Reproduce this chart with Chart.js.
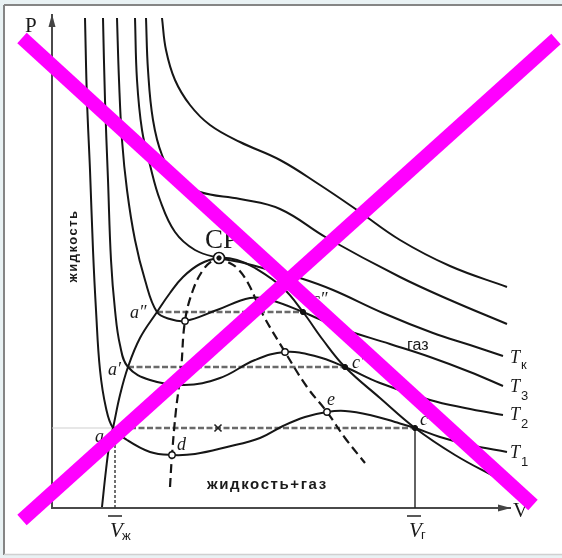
<!DOCTYPE html>
<html><head><meta charset="utf-8">
<script src="https://cdn.jsdelivr.net/npm/chart.js"></script>
<style>html,body{margin:0;padding:0;background:#e9f2f4;}canvas{display:block;}</style>
</head><body>
<canvas id="pv" width="562" height="558"></canvas>
<script>
// Van der Waals isotherms on the P–V plane (arbitrary units: V along x, P along y)
const isoT1V = [3.3,3.5,3.8,4.1,4.4,4.8,5.4,6.1,7.5,9.8,12.0,14.3,17.5,20.8,23.1,25.3,27.5,29.3,31.8,34.3,36.3,38.8,41.8,45.5];
const isoT1P = [49.0,40.8,33.8,25.8,19.8,13.8,10.0,8.0,6.8,5.6,5.3,5.4,6.1,7.0,8.2,9.1,9.6,9.7,9.3,8.6,8.0,7.1,6.3,5.6];
const isoT2V = [5.1,5.3,5.6,5.9,6.3,6.8,7.6,9.8,13.2,16.8,20.3,23.3,26.3,29.3,32.8,37.8,41.3,45.1];
const isoT2P = [49.0,40.8,32.8,24.8,19.8,16.3,14.1,12.8,12.3,13.0,14.8,15.6,15.2,14.1,12.5,10.8,10.0,9.3];
const isoT3V = [6.5,6.7,7.0,7.5,8.3,9.3,10.5,11.8,13.3,16.5,19.8,21.8,25.1,28.8,33.8,37.8,41.8,45.1];
const isoT3P = [49.0,42.8,36.8,31.8,26.8,22.8,19.6,18.9,18.7,19.8,21.0,20.8,19.6,18.0,16.4,15.1,13.6,12.2];
const isoTkV = [8.3,8.5,9.0,9.8,10.8,12.3,14.3,16.7,18.8,21.8,24.8,28.1,33.1,38.1,41.8,45.1];
const isoTkP = [49.0,42.8,37.8,34.3,30.8,27.6,25.8,25.0,24.6,23.8,23.0,21.8,19.5,17.5,16.3,15.2];
const isoT4V = [9.4,9.6,10.1,11.0,12.4,14.8,18.8,22.8,27.5,34.8,39.8,45.5];
const isoT4P = [49.0,43.8,38.8,35.3,33.0,31.6,30.9,29.9,27.0,23.1,20.8,18.4];
const isoT5V = [11.0,11.4,12.3,13.8,15.8,18.8,22.8,26.8,30.5,34.8,39.8,45.5];
const isoT5P = [49.0,45.8,42.8,40.3,38.3,36.6,34.8,32.3,29.8,26.8,24.2,22.1];

// coexistence curve (binodal) and spinodal
const binodalV = [5.0,5.4,5.8,6.1,6.8,7.6,8.8,10.5,11.8,13.1,14.8,16.7,18.5,20.3,23.1,25.1,27.1,29.3,32.8,36.3,40.3,44.5];
const binodalP = [0.1,3.8,6.8,8.0,11.3,14.1,17.0,19.6,21.5,23.1,24.4,25.0,24.8,24.0,22.0,19.6,16.8,14.1,11.0,8.0,5.3,3.0];
const spinodalV = [11.8,12.0,12.4,12.9,13.3,14.1,15.1,16.0,16.7,17.6,18.5,19.6,21.0,23.3,25.5,27.5,29.3,31.3];
const spinodalP = [2.1,5.3,9.8,13.8,18.7,21.8,23.8,24.7,25.0,24.6,24.0,22.5,19.5,15.6,12.1,9.6,7.0,4.5];

// saturated vapour pressure lines (liquid end, gas end, pressure)
const tieLiqV = [6.1, 7.6, 10.5];
const tieGasV = [36.3, 29.3, 25.1];
const tieP = [8.0, 14.1, 19.6];

// marked points
const openV = [12.0, 13.3, 23.3, 27.5];
const openP = [5.3, 18.7, 15.6, 9.6];
const dotV = [36.3, 29.3, 25.1];
const dotP = [8.0, 14.1, 19.6];
const critV = 16.7, critP = 25.0;
const midV = 16.6, midP = 8.0;

// text labels: [text, V, P, style]
const labels = [
  ['P', -2.7, 47.6, 'axis'],
  ['V', 46.1, -0.9, 'axis'],
  ['CP', 15.3, 26.0, 'crit'],
  ['газ', 35.5, 15.8, 'region'],
  ['жидкость+газ', 15.5, 1.9, 'regionB'],
  ['a″', 7.8, 19.0, 'pt'],
  ['a′', 5.6, 13.3, 'pt'],
  ['a', 4.3, 6.6, 'pt'],
  ['d', 12.5, 5.8, 'pt'],
  ['e', 27.5, 10.3, 'pt'],
  ['c', 36.8, 8.3, 'pt'],
  ['c′', 30.0, 14.0, 'pt'],
  ['c″', 26.0, 20.3, 'pt'],
  ['T', 45.8, 14.5, 'T'], ['к', 46.9, 13.9, 'sub'],
  ['T', 45.8, 11.6, 'T'], ['3', 46.9, 10.8, 'sub'],
  ['T', 45.8, 8.8, 'T'], ['2', 46.9, 8.0, 'sub'],
  ['T', 45.8, 5.0, 'T'], ['1', 46.9, 4.2, 'sub'],
  ['V', 5.8, -2.9, 'vbar'], ['ж', 7.0, -3.2, 'sub'],
  ['V', 35.7, -2.9, 'vbar'], ['г', 36.9, -3.1, 'sub']
];
const sideLabel = ['жидкость', 2.0, 26.2];

const styles = {
  axis: '21px "Liberation Serif", serif',
  crit: '27px "Liberation Serif", serif',
  region: '16px "Liberation Sans", sans-serif',
  regionB: 'bold 15px "Liberation Sans", sans-serif',
  pt: 'italic 18px "Liberation Serif", serif',
  T: 'italic 18px "Liberation Serif", serif',
  sub: '13px "Liberation Sans", sans-serif',
  vbar: 'italic 21px "Liberation Serif", serif'
};

const pts = (vs, ps) => vs.map((v, i) => ({x: v, y: ps[i]}));
const curve = (vs, ps) => ({data: pts(vs, ps), showLine: true, pointRadius: 0, borderColor: '#161616', borderWidth: 2, tension: 0.4, fill: false});

const datasets = [
  curve(isoT1V, isoT1P), curve(isoT2V, isoT2P), curve(isoT3V, isoT3P),
  curve(isoTkV, isoTkP), curve(isoT4V, isoT4P), curve(isoT5V, isoT5P),
  curve(binodalV, binodalP),
  Object.assign(curve(spinodalV, spinodalP), {borderDash: [9, 5], borderWidth: 2.2})
];
tieP.forEach((p, i) => {
  datasets.push({data: [{x: tieLiqV[i], y: p}, {x: tieGasV[i], y: p}], showLine: true, pointRadius: 0,
    borderColor: '#6a6a6a', borderWidth: 2.6, borderDash: [6, 2.5], tension: 0});
});
// drop lines to the volume axis
datasets.push({data: [{x: 0, y: tieP[0]}, {x: tieLiqV[0], y: tieP[0]}], showLine: true, pointRadius: 0, borderColor: '#cfcfcf', borderWidth: 1});
datasets.push({data: [{x: 6.3, y: 0}, {x: 6.3, y: tieP[0]}], showLine: true, pointRadius: 0, borderColor: '#333', borderWidth: 1.4, borderDash: [3, 2]});
datasets.push({data: [{x: tieGasV[0], y: 0}, {x: tieGasV[0], y: tieP[0]}], showLine: true, pointRadius: 0, borderColor: '#222', borderWidth: 1.4});
// markers (lower index is painted later, i.e. on top)
datasets.unshift({data: pts(openV, openP), showLine: false, pointRadius: 3.2, pointBackgroundColor: '#fff', pointBorderColor: '#111', pointBorderWidth: 1.4});
datasets.unshift({data: pts(dotV, dotP), showLine: false, pointRadius: 2.6, pointBackgroundColor: '#111', pointBorderColor: '#111', pointBorderWidth: 1});
datasets.unshift({data: [{x: midV, y: midP}], showLine: false, pointStyle: 'crossRot', pointRadius: 5, pointBorderColor: '#222', pointBorderWidth: 1.6});
datasets.unshift({data: [{x: critV, y: critP}], showLine: false, pointRadius: 5.5, pointBackgroundColor: '#fff', pointBorderColor: '#111', pointBorderWidth: 1.6});
datasets.unshift({data: [{x: critV, y: critP}], showLine: false, pointRadius: 2.2, pointBackgroundColor: '#111', pointBorderColor: '#111'});

const framePlugin = {
  id: 'frame',
  beforeDraw(chart) {
    const c = chart.ctx, w = chart.width, h = chart.height;
    c.save();
    c.fillStyle = '#e9f2f4';
    c.fillRect(0, 0, w, h);
    c.fillStyle = '#ffffff';
    c.fillRect(5, 6, w - 5, h - 10);
    c.strokeStyle = '#858585'; c.lineWidth = 2;
    c.beginPath(); c.moveTo(4, 5); c.lineTo(w, 5); c.moveTo(4, 5); c.lineTo(4, h - 3); c.stroke();
    c.strokeStyle = '#d0d0d0'; c.lineWidth = 1.5;
    c.beginPath(); c.moveTo(4, h - 3.5); c.lineTo(w, h - 3.5); c.stroke();
    c.restore();
  }
};

const overlayPlugin = {
  id: 'overlay',
  afterDraw(chart) {
    const c = chart.ctx, sx = chart.scales.x, sy = chart.scales.y, a = chart.chartArea;
    c.save();
    // axis arrows
    c.fillStyle = '#444';
    c.beginPath(); c.moveTo(a.left, a.top - 1); c.lineTo(a.left - 3.5, a.top + 12); c.lineTo(a.left + 3.5, a.top + 12); c.closePath(); c.fill();
    c.beginPath(); c.moveTo(a.right + 1, a.bottom); c.lineTo(a.right - 12, a.bottom - 3.5); c.lineTo(a.right - 12, a.bottom + 3.5); c.closePath(); c.fill();
    // labels
    c.fillStyle = '#1a1a1a';
    c.textBaseline = 'alphabetic'; c.textAlign = 'left';
    labels.forEach(([t, v, p, s]) => {
      c.font = styles[s];
      c.letterSpacing = s === 'regionB' ? '1.6px' : '0px';
      const x = sx.getPixelForValue(v), y = sy.getPixelForValue(p);
      c.fillText(t, x, y);
      if (s === 'vbar') {
        c.strokeStyle = '#222'; c.lineWidth = 1.5;
        c.beginPath(); c.moveTo(x - 2, y - 21); c.lineTo(x + 12, y - 21); c.stroke();
      }
    });
    c.font = 'bold 13px "Liberation Sans", sans-serif';
    c.letterSpacing = '1.5px';
    c.textAlign = 'center';
    c.translate(sx.getPixelForValue(sideLabel[1]), sy.getPixelForValue(sideLabel[2]));
    c.rotate(-Math.PI / 2);
    c.fillText(sideLabel[0], 0, 5);
    c.restore();
    // crossing strokes
    c.save();
    c.strokeStyle = '#ff00ff'; c.lineWidth = 14; c.lineCap = 'butt';
    c.beginPath(); c.moveTo(22, 38); c.lineTo(533, 505); c.stroke();
    c.beginPath(); c.moveTo(22, 520); c.lineTo(556, 39); c.stroke();
    c.restore();
  }
};

new Chart(document.getElementById('pv'), {
  type: 'scatter',
  data: {datasets},
  options: {
    responsive: false, animation: false, devicePixelRatio: 1,
    layout: {padding: {left: 52, right: 52, top: 15, bottom: 50}},
    plugins: {legend: {display: false}, tooltip: {enabled: false}},
    scales: {
      x: {type: 'linear', min: 0, max: 45.8, grid: {display: false, drawTicks: false}, ticks: {display: false},
          border: {display: true, color: '#4a4a4a', width: 2}, afterFit(s) { s.height = 0; }},
      y: {type: 'linear', min: 0, max: 49.3, grid: {display: false, drawTicks: false}, ticks: {display: false},
          border: {display: true, color: '#4a4a4a', width: 2}, afterFit(s) { s.width = 0; }}
    }
  },
  plugins: [framePlugin, overlayPlugin]
});
</script>
</body></html>
